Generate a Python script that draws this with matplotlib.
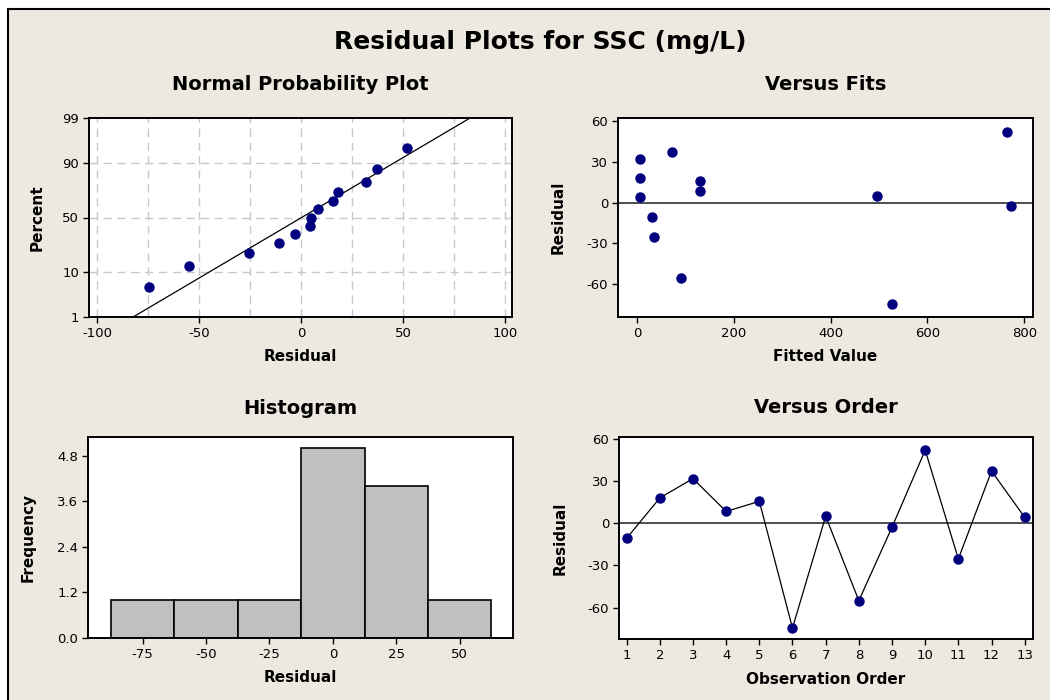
import numpy as np
import matplotlib
matplotlib.use("Agg")
import matplotlib.pyplot as plt
from matplotlib.patches import Rectangle
from statistics import NormalDist

# residuals in observation order, with their fitted values
order = np.arange(1, 14)
resid = np.array([-10.7, 18.0, 31.8, 8.4, 15.6, -74.6, 5.0, -55.1, -2.8, 52.0, -25.4, 37.2, 4.2])
fits = np.array([32, 6, 6, 130, 130, 527, 496, 92, 772, 765, 36, 73, 6])

pct_ticks = [1, 10, 50, 90, 99]
hist_bins = np.arange(-87.5, 63, 25)

bg = "#EDE9E0"
navy = "#00007F"
plt.rcParams['font.family'] = ['DejaVu Sans']
plt.rcParams['font.size'] = 9
plt.rcParams['axes.unicode_minus'] = False

fig = plt.figure(figsize=(10.5, 7), dpi=100)
fig.patch.set_facecolor("white")
fig.patches.append(Rectangle((8/1050, -0.05), 1.1, 1 - 9/700 + 0.05, transform=fig.transFigure,
                             facecolor=bg, edgecolor="black", lw=1.5, zorder=-10))

W, H = 1050.0, 700.0
def box(l, r, t, b):
    return [l/W, 1 - b/H, (r - l)/W, (b - t)/H]

ax1 = fig.add_axes(box(89, 512, 118, 317))
ax2 = fig.add_axes(box(618, 1033, 118, 317))
ax3 = fig.add_axes(box(88, 513, 437, 638))
ax4 = fig.add_axes(box(619, 1033, 437, 639))

for ax in (ax1, ax2, ax3, ax4):
    ax.set_facecolor("white")
    for s in ax.spines.values():
        s.set_linewidth(1.4)
        s.set_color("black")
    ax.tick_params(direction="out", length=4, width=1, pad=3, labelsize=9.5)

def lab(ax, xl, yl, xy, yx):
    ax.set_xlabel(xl, fontweight="bold", fontsize=11, va="center")
    ax.set_ylabel(yl, fontweight="bold", fontsize=11, va="center")
    ax.xaxis.set_label_coords(0.5, xy)
    ax.yaxis.set_label_coords(yx, 0.5)

def sub(ax, txt, y):
    ax.text(0.5, y, txt, transform=ax.transAxes, ha="center", va="center",
            fontsize=14, fontweight="bold")

# normal probability plot
nd = NormalDist()
n = len(resid)
srt = np.sort(resid)
p = (np.arange(1, n + 1) - 0.3) / (n + 0.4)
z = np.array([nd.inv_cdf(v) for v in p])
mu, sd = resid.mean(), resid.std(ddof=1)
zl = np.array([nd.inv_cdf(0.01), nd.inv_cdf(0.99)])
ax1.plot(mu + sd * zl, zl, color="black", lw=0.9, zorder=2)
ax1.plot(srt, z, "o", color=navy, ms=6.5, zorder=3)
ax1.set_xlim(-104, 103.5)
ax1.set_ylim(zl[0], zl[1])
ax1.set_yticks([nd.inv_cdf(v / 100) for v in pct_ticks])
ax1.set_yticklabels([str(v) for v in pct_ticks])
ax1.set_xticks(np.arange(-100, 101, 50))
for gx in np.arange(-100, 101, 25):
    ax1.axvline(gx, color="#C8C8C8", ls=(0, (6, 4)), lw=1, zorder=1)
for v in pct_ticks[1:-1]:
    ax1.axhline(nd.inv_cdf(v / 100), color="#C8C8C8", ls=(0, (6, 4)), lw=1, zorder=1)
lab(ax1, "Residual", "Percent", -0.198, -0.123)
sub(ax1, "Normal Probability Plot", 1.168)

# versus fits
ax2.axhline(0, color="#404040", lw=1.3, zorder=1)
ax2.plot(fits, resid, "o", color=navy, ms=6.5, zorder=3)
ax2.set_xlim(-39, 818)
ax2.set_ylim(-84, 62)
ax2.set_xticks(np.arange(0, 801, 200))
ax2.set_yticks(np.arange(-60, 61, 30))
lab(ax2, "Fitted Value", "Residual", -0.196, -0.145)
sub(ax2, "Versus Fits", 1.168)

# histogram
ax3.hist(resid, bins=hist_bins, color="#C0C0C0", edgecolor="black", lw=1.2)
ax3.set_xlim(-96.5, 71)
ax3.set_ylim(0, 5.3)
ax3.set_xticks(np.arange(-75, 51, 25))
ax3.set_yticks([0, 1.2, 2.4, 3.6, 4.8])
ax3.set_yticklabels(["0.0", "1.2", "2.4", "3.6", "4.8"])
lab(ax3, "Residual", "Frequency", -0.199, -0.141)
sub(ax3, "Histogram", 1.144)

# versus order
ax4.axhline(0, color="#404040", lw=1.3, zorder=1)
ax4.plot(order, resid, "-", color="black", lw=0.9, zorder=2)
ax4.plot(order, resid, "o", color=navy, ms=6.5, zorder=3)
ax4.set_xlim(0.77, 13.25)
ax4.set_ylim(-82.4, 61.4)
ax4.set_xticks(order)
ax4.set_yticks(np.arange(-60, 61, 30))
lab(ax4, "Observation Order", "Residual", -0.2, -0.1425)
sub(ax4, "Versus Order", 1.144)

fig.text(540/W, 1 - 42/H, "Residual Plots for SSC (mg/L)", ha="center", va="center",
         fontsize=18, fontweight="bold")

fig.savefig("out.png", dpi=100, facecolor=fig.get_facecolor())
